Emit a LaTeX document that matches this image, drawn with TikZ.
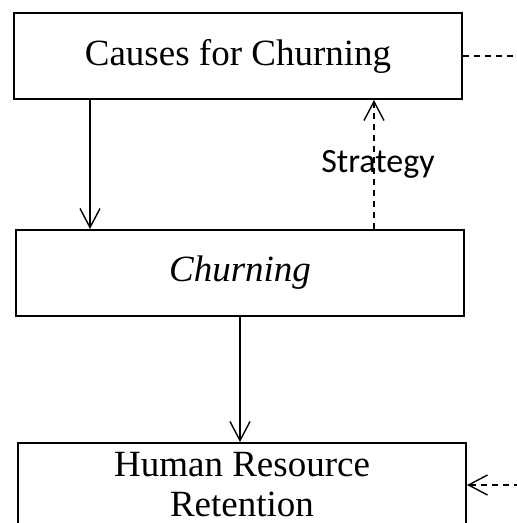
\documentclass[tikz,border=0pt]{standalone}
\usepackage{fontspec}
\setmainfont{Liberation Serif}
\newfontfamily\labelfont{Carlito}
\usetikzlibrary{arrows.meta,calc}
\begin{document}
\begin{tikzpicture}[x=1pt,y=-1pt,
  box/.style={draw, line width=2pt, minimum width=448pt, minimum height=86pt, inner sep=0pt, align=center,
    font=\fontsize{37}{40}\selectfont},
  arr/.style={line width=1.4pt, -{Straight Barb[length=19pt,width=20pt,line width=1.4pt]}},
  darr/.style={arr, dash pattern=on 6pt off 5pt},
  dline/.style={line width=1.4pt, dash pattern=on 6pt off 5pt}]
\useasboundingbox (0,0) rectangle (517,523);
\clip (0,0) rectangle (517,523);
\node[box] (c1) at (238,56) {Causes for Churning};
\node[box] (c2) at (240,273) {\itshape Churning};
\node[box, minimum height=84pt] (c3) at (242,485) {Human Resource\\Retention};
\coordinate (a1) at ($(c1.south west)+(77,0)$);
\draw[arr] (a1) -- (a1 |- c2.north);
\coordinate (s1) at ($(c2.north west)+(359,0)$);
\draw[darr] (s1) -- (s1 |- c1.south) node[pos=0.5, xshift=4pt, font=\labelfont\fontsize{34}{36}\selectfont] {Strategy};
\coordinate (m1) at ($(c2.south west)+(225,0)$);
\draw[arr] (m1) -- (m1 |- c3.north);
\coordinate (r1) at (520,56);
\draw[dline] (c1.east) -- (r1);
\coordinate (r3) at (520,485);
\draw[darr] (r3) -- (r3 -| c3.east);
\end{tikzpicture}
\end{document}
